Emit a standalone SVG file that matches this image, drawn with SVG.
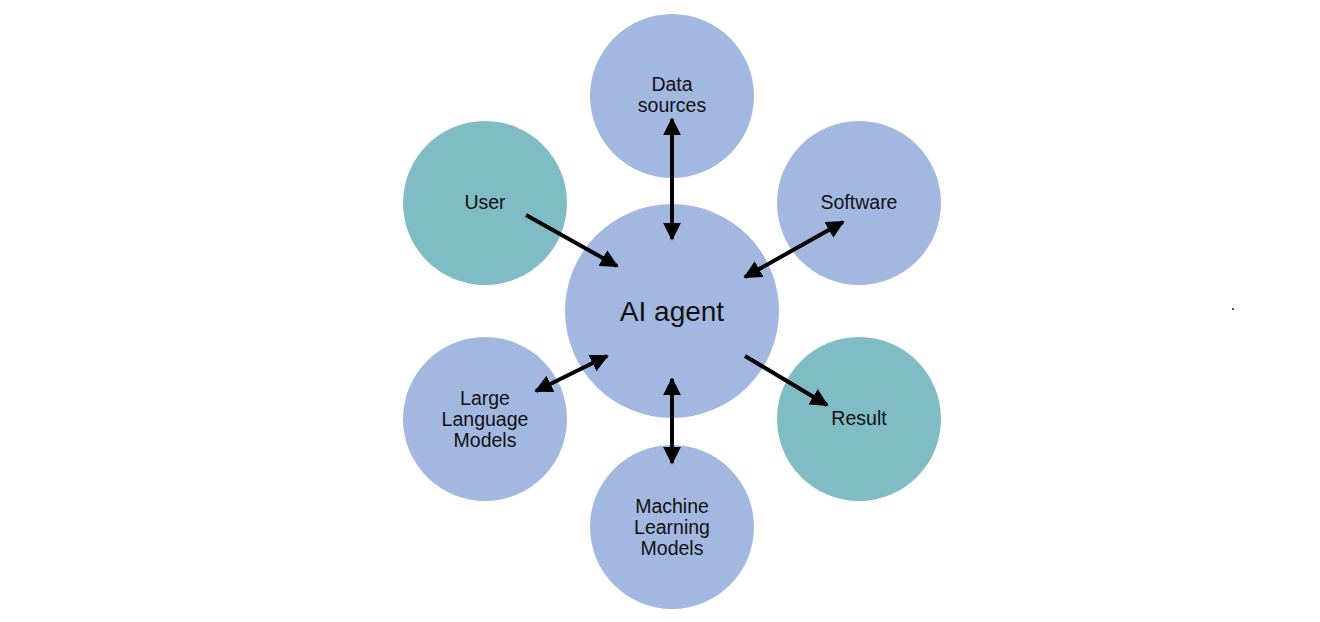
<svg xmlns="http://www.w3.org/2000/svg" width="1320" height="622" viewBox="0 0 1320 622">
<style>
.blue{fill:#A3B8E1}
.teal{fill:#80BCC3}
.lbl{font-family:"Liberation Sans",Arial,sans-serif;font-size:19.5px;fill:#111;text-anchor:middle}
.big{font-family:"Liberation Sans",Arial,sans-serif;font-size:28px;fill:#111;text-anchor:middle}
.conn{stroke:#000;stroke-width:4;fill:none}
</style>
<defs>
<marker id="ah" viewBox="0 0 10 10" refX="9" refY="5" markerWidth="18" markerHeight="18" markerUnits="userSpaceOnUse" orient="auto-start-reverse">
<path d="M0,0 L10,5 L0,10 Z" fill="#000"/>
</marker>
</defs>
<rect width="1320" height="622" fill="#fff"/>
<g id="ai-agent"><circle class="blue" cx="672" cy="311" r="107"/><text class="big" x="672" y="321">AI agent</text></g>
<g id="data-sources"><circle class="blue" cx="672" cy="96" r="82"/><text class="lbl" x="672" y="91">Data</text><text class="lbl" x="672" y="112">sources</text></g>
<g id="user"><circle class="teal" cx="485" cy="203" r="82"/><text class="lbl" x="485" y="209">User</text></g>
<g id="software"><circle class="blue" cx="859" cy="203" r="82"/><text class="lbl" x="859" y="209">Software</text></g>
<g id="llm"><circle class="blue" cx="485" cy="419" r="82"/><text class="lbl" x="485" y="405">Large</text><text class="lbl" x="485" y="426">Language</text><text class="lbl" x="485" y="447">Models</text></g>
<g id="result"><circle class="teal" cx="859" cy="419" r="82"/><text class="lbl" x="859" y="425">Result</text></g>
<g id="ml"><circle class="blue" cx="672" cy="527" r="82"/><text class="lbl" x="672" y="513">Machine</text><text class="lbl" x="672" y="534">Learning</text><text class="lbl" x="672" y="555">Models</text></g>
<g id="connectors">
<line class="conn" x1="672" y1="119" x2="672" y2="239" marker-start="url(#ah)" marker-end="url(#ah)"/>
<line class="conn" x1="526" y1="215" x2="617" y2="266" marker-end="url(#ah)"/>
<line class="conn" x1="843" y1="222" x2="745" y2="277" marker-start="url(#ah)" marker-end="url(#ah)"/>
<line class="conn" x1="536" y1="391" x2="607" y2="356" marker-start="url(#ah)" marker-end="url(#ah)"/>
<line class="conn" x1="745" y1="356" x2="827" y2="405" marker-end="url(#ah)"/>
<line class="conn" x1="672" y1="379" x2="672" y2="463" marker-start="url(#ah)" marker-end="url(#ah)"/>
</g>
<rect x="1232" y="308" width="2" height="2" fill="#555"/>
</svg>
